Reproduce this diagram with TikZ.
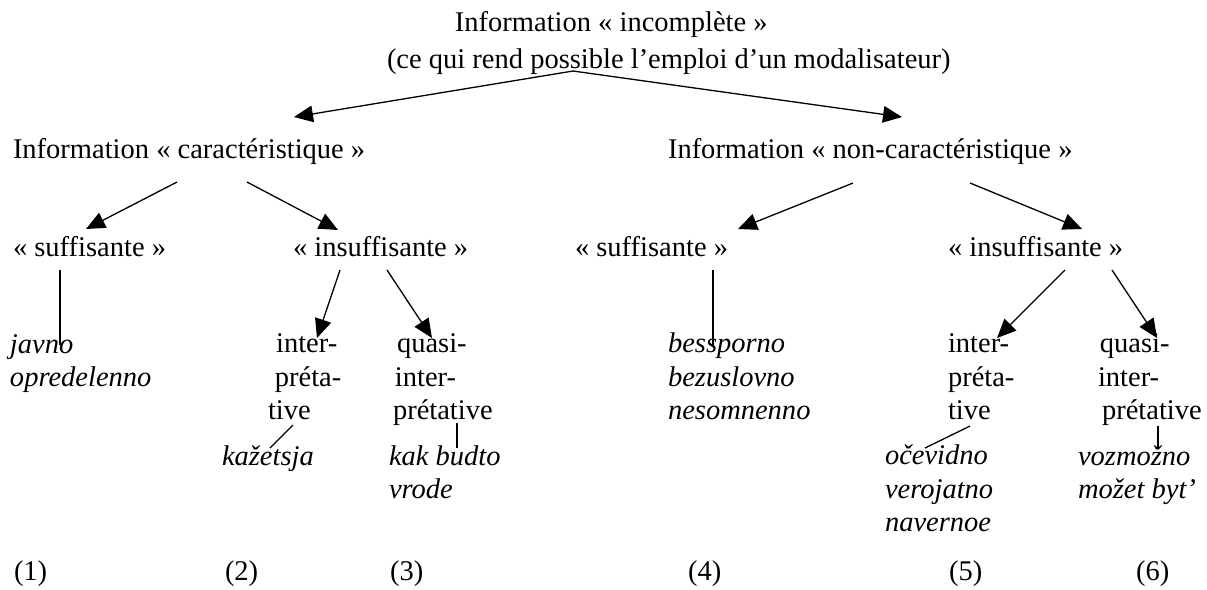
\documentclass[tikz,border=0pt]{standalone}
\usepackage{fontspec}
\setmainfont{Liberation Serif}
\usetikzlibrary{arrows.meta}
\begin{document}
\begin{tikzpicture}[x=0.421pt,y=-0.421pt,
  txt/.style={inner sep=0pt,outer sep=0pt,anchor=base west,align=left,font=\fontsize{12}{13.9}\selectfont},
  itx/.style={txt,font=\fontsize{12}{13.9}\selectfont\itshape},
  ttl/.style={txt,font=\fontsize{12}{15.2}\selectfont},
  conn/.style={line width=0.55pt},
  arr/.style={conn,-{Triangle[length=8pt,width=7pt]}}]
\useasboundingbox (0,0) rectangle (1207,589);

% text nodes (anchor = baseline of the last line)
\node[ttl] (top) at (387,68) {\hspace*{28.6pt}Information « incomplète »\\(ce qui rend possible l’emploi d’un modalisateur)};
\node[txt] (car) at (13,158) {Information « caractéristique »};
\node[txt] (ncar) at (668,158) {Information « non-caractéristique »};
\node[txt] (s1) at (13,256) {« suffisante »};
\node[txt] (i1) at (293,256) {« insuffisante »};
\node[txt] (s2) at (575,256) {« suffisante »};
\node[txt] (i2) at (948,256) {« insuffisante »};
\node[itx] (ex1) at (10,386) {javno\\opredelenno};
\node[txt] (ip1) at (268,419) {\hspace*{3.4pt}inter-\\\hspace*{2.9pt}préta-\\tive};
\node[txt] (qi1) at (393,419) {\hspace*{1.7pt}quasi-\\\hspace*{0.8pt}inter-\\prétative};
\node[itx] (ex2) at (222,465) {kažetsja};
\node[itx] (ex3) at (389,498) {kak budto\\vrode};
\node[itx] (ex4) at (668,419) {bessporno\\bezuslovno\\nesomnenno};
\node[txt] (ip2) at (948,419) {inter-\\préta-\\tive};
\node[txt] (qi2) at (1098,419) {\hspace*{0.8pt}quasi-\\inter-\\\hspace*{1.7pt}prétative};
\node[itx] (ex5) at (885,531) {očevidno\\verojatno\\navernoe};
\node[itx] (ex6) at (1078,498) {vozmožno\\možet byt’};
\node[txt] (n1) at (14,580) {(1)};
\node[txt] (n2) at (225,580) {(2)};
\node[txt] (n3) at (390,580) {(3)};
\node[txt] (n4) at (688,580) {(4)};
\node[txt] (n5) at (949,580) {(5)};
\node[txt] (n6) at (1136,580) {(6)};

% connector end points
\coordinate (top-o) at (573,71);
\coordinate (car-in) at (294,117);
\coordinate (ncar-in) at (902,117);
\coordinate (car-l) at (177,182);
\coordinate (car-r) at (247,182);
\coordinate (s1-in) at (86,229);
\coordinate (i1-in) at (338,230);
\coordinate (ncar-l) at (853,183);
\coordinate (ncar-r) at (970,183);
\coordinate (s2-in) at (738,229);
\coordinate (i2-in) at (1082,229);
\coordinate (s1-o) at (60,270);
\coordinate (ex1-in) at (60,345);
\coordinate (i1-l) at (340,270);
\coordinate (i1-r) at (387,270);
\coordinate (ip1-in) at (317,338);
\coordinate (qi1-in) at (432,338);
\coordinate (s2-o) at (713,270);
\coordinate (ex4-in) at (713,345);
\coordinate (i2-l) at (1065,270);
\coordinate (i2-r) at (1112,270);
\coordinate (ip2-in) at (997,338);
\coordinate (qi2-in) at (1157,338);
\coordinate (ip1-o) at (293,425);
\coordinate (ex2-in) at (270,448);
\coordinate (qi1-o) at (457,423);
\coordinate (ex3-in) at (457,448);
\coordinate (ip2-o) at (970,426);
\coordinate (ex5-in) at (925,448);
\coordinate (qi2-o) at (1158,426);
\coordinate (ex6-in) at (1158,448);

% connectors
\draw[arr] (top-o) -- (car-in);
\draw[arr] (top-o) -- (ncar-in);
\draw[arr] (car-l) -- (s1-in);
\draw[arr] (car-r) -- (i1-in);
\draw[arr] (ncar-l) -- (s2-in);
\draw[arr] (ncar-r) -- (i2-in);
\draw[conn] (s1-o) -- (ex1-in);
\draw[arr] (i1-l) -- (ip1-in);
\draw[arr] (i1-r) -- (qi1-in);
\draw[conn] (s2-o) -- (ex4-in);
\draw[arr] (i2-l) -- (ip2-in);
\draw[arr] (i2-r) -- (qi2-in);
\draw[conn] (ip1-o) -- (ex2-in);
\draw[conn] (qi1-o) -- (ex3-in);
\draw[conn] (ip2-o) -- (ex5-in);
\draw[conn] (qi2-o) -- (ex6-in);
\end{tikzpicture}
\end{document}
